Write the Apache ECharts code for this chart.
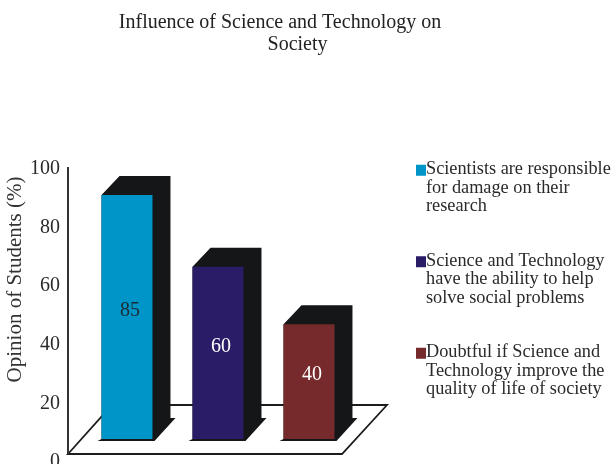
<!DOCTYPE html>
<html><head><meta charset="utf-8">
<script src="https://cdn.jsdelivr.net/npm/echarts@6/dist/echarts.min.js"></script>
<style>html,body{margin:0;padding:0;background:#fff}#c{width:615px;height:464px}</style>
</head><body><div id="c"></div>
<script>
const titleText = 'Influence of Science and Technology on\n       Society';
const yAxisName = 'Opinion of Students (%)';
const categories = ['Scientists are responsible\nfor damage on their\nresearch','Science and Technology\nhave the ability to help\nsolve social problems','Doubtful if Science and\nTechnology improve the\nquality of life of society'];
const values = [85, 60, 40];
const colors = ['#0095c8', '#2a1c66', '#762a2b'];
const labelColors = ['#1a2a30', '#ffffff', '#ffffff'];
const serif = '"Liberation Serif","Times New Roman",serif';
const DX = 18, DY = -19, DARK = '#151618';

function renderBar(i) {
  return function (params, api) {
    const top = api.coord([api.value(0), api.value(1)]);
    const base = api.coord([api.value(0), 0]);
    const w = api.size([1, 0])[0] * 0.56;
    const l = top[0] - w / 2, r = top[0] + w / 2;
    return { type: 'group', children: [
      { type: 'polygon', shape: { points: [[l, top[1]], [l + DX, top[1] + DY], [r + DX, top[1] + DY], [r + DX, base[1] - 21], [r + 23, base[1] - 21], [r + 2, base[1] + 2], [l - 4, base[1] + 2], [l, base[1]]] }, style: { fill: DARK } },
      { type: 'rect', shape: { x: l, y: top[1], width: w, height: base[1] - top[1] }, style: { fill: colors[i] } },
      { type: 'text', style: { text: String(api.value(1)), x: top[0] + 3, y: (top[1] + base[1]) / 2 - 6.5, align: 'center', verticalAlign: 'middle', fill: labelColors[i], font: '20px ' + serif } }
    ] };
  };
}
function renderFrame(params, api) {
  const o = api.coord([0, 0]), t = api.coord([0, 100]);
  const y0 = o[1] - 8, x0 = t[0];
  return { type: 'group', children: [
    { type: 'polygon', shape: { points: [[x0, y0], [x0 + 274, y0], [x0 + 319, y0 - 49], [x0 + 44, y0 - 49]] }, style: { fill: '#fff', stroke: '#1c1c1c', lineWidth: 1.8 } },
    { type: 'line', shape: { x1: x0, y1: t[1] - 2, x2: x0, y2: y0 }, style: { stroke: '#333', lineWidth: 2 } }
  ] };
}
const chart = echarts.init(document.getElementById('c'));
chart.setOption({
  animation: false,
  backgroundColor: '#fff',
  title: { text: titleText, left: 275, top: 7, textAlign: 'center',
    textStyle: { fontFamily: serif, fontWeight: 'normal', fontSize: 20, lineHeight: 22, color: '#222' } },
  legend: { orient: 'vertical', left: 416, top: 160, padding: 0, itemGap: 36, itemWidth: 10, itemHeight: 46, selectedMode: false,
    icon: 'path://M0 0H10V11H0Z M0 46H0.01V46.01H0Z',
    data: categories,
    textStyle: { fontFamily: serif, fontSize: 18.3, lineHeight: 18.5, color: '#2a2a2a', padding: [0, 0, 0, -5] } },
  grid: [
    { left: 68, width: 273, top: 169, bottom: 2, outerBoundsMode: 'none' },
    { left: 81.5, width: 273, top: 152, height: 287, outerBoundsMode: 'none' }
  ],
  xAxis: [
    { type: 'value', gridIndex: 0, min: 0, max: 1, show: false },
    { type: 'category', gridIndex: 1, data: [0, 1, 2], show: false }
  ],
  yAxis: [
    { type: 'value', gridIndex: 0, min: 0, max: 100, interval: 20,
      name: yAxisName, nameLocation: 'middle', nameGap: 33,
      nameTextStyle: { fontFamily: serif, fontSize: 21, color: '#333', padding: [0, 0, 0, 72] },
      axisLine: { show: false }, axisTick: { show: false }, splitLine: { show: false },
      axisLabel: { fontFamily: serif, fontSize: 20, color: '#2a2a2a', margin: 8 } },
    { type: 'value', gridIndex: 1, min: 0, max: 100, show: false }
  ],
  series: [
    { type: 'custom', name: 'frame', xAxisIndex: 0, yAxisIndex: 0, z: 1, clip: false, silent: true, data: [[0, 0]], renderItem: renderFrame, encode: { x: 0, y: 1 } }
  ].concat(categories.map((c, i) => ({
    type: 'custom', name: c, xAxisIndex: 1, yAxisIndex: 1, z: 2 + i, clip: false,
    itemStyle: { color: colors[i] },
    data: [[i, values[i]]], renderItem: renderBar(i), encode: { x: 0, y: 1 }
  })))
});
</script></body></html>
